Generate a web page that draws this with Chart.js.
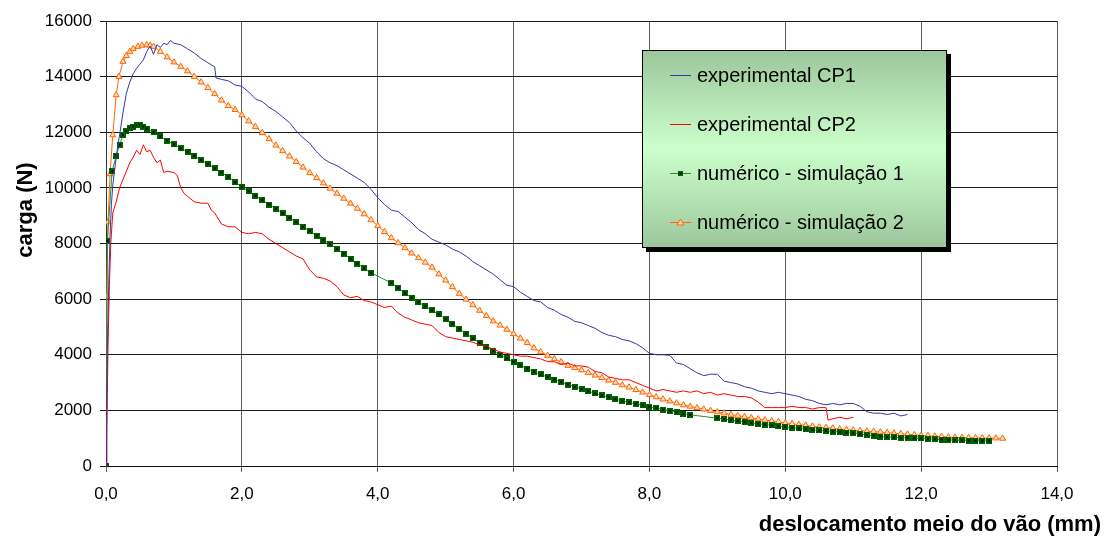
<!DOCTYPE html>
<html>
<head>
<meta charset="utf-8">
<script src="https://cdn.jsdelivr.net/npm/chart.js@4.4.1/dist/chart.umd.min.js"></script>
<style>
  html, body { margin: 0; padding: 0; background: #fff; }
  #grafica { display: block; }
</style>
</head>
<body>
<canvas id="grafica" width="1109" height="538"></canvas>
<script>
// --- Dados: [deslocamento (mm), carga (N)] ---
const nomesSeries = ['experimental CP1', 'experimental CP2', 'numérico - simulação 1', 'numérico - simulação 2'];

const cp1 = [
  [0,0],[0.01,1500],[0.02,4200],[0.04,6500],[0.06,8300],[0.08,9400],[0.1,10100],[0.13,10700],[0.16,11300],
  [0.2,11900],[0.25,12700],[0.3,13400],[0.35,13800],[0.4,14100],[0.45,14300],[0.5,14450],[0.55,14600],
  [0.6,14900],[0.65,15100],[0.7,14800],[0.75,15150],[0.8,15050],[0.85,15200],[0.9,15150],[0.95,15300],
  [1.0,15200],[1.1,15150],[1.2,15000],[1.3,14850],[1.4,14650],[1.5,14500],[1.6,14350],[1.62,13950],
  [1.7,13900],[1.8,13850],[1.9,13700],[2.0,13650],[2.1,13450],[2.2,13200],[2.3,13100],[2.4,12900],
  [2.5,12750],[2.6,12550],[2.7,12350],[2.8,12050],[2.9,11800],[3.0,11600],[3.1,11300],[3.2,11050],
  [3.3,10900],[3.4,10800],[3.5,10650],[3.6,10500],[3.7,10350],[3.8,10200],[3.9,9950],[4.0,9650],
  [4.1,9400],[4.2,9200],[4.3,9150],[4.4,8950],[4.5,8750],[4.6,8500],[4.7,8350],[4.8,8150],[4.9,8050],
  [5.0,7950],[5.1,7800],[5.2,7700],[5.3,7550],[5.4,7350],[5.5,7200],[5.6,7050],[5.7,6900],[5.8,6700],
  [5.9,6500],[6.0,6450],[6.1,6250],[6.2,6100],[6.3,5950],[6.4,5900],[6.5,5700],[6.6,5600],[6.7,5450],
  [6.8,5350],[6.9,5200],[7.0,5150],[7.1,5050],[7.2,4950],[7.3,4800],[7.4,4700],[7.5,4650],[7.6,4550],
  [7.7,4500],[7.8,4400],[7.9,4250],[8.0,4050],[8.1,4000],[8.2,4000],[8.3,3980],[8.4,3700],[8.5,3650],
  [8.6,3500],[8.7,3350],[8.8,3250],[8.9,3300],[9.0,3300],[9.1,3050],[9.2,3000],[9.3,2950],[9.4,2850],
  [9.5,2800],[9.6,2700],[9.7,2650],[9.8,2600],[9.9,2650],[10.0,2600],[10.1,2550],[10.2,2500],[10.3,2400],
  [10.4,2350],[10.5,2250],[10.6,2200],[10.7,2250],[10.8,2200],[10.9,2250],[11.0,2250],[11.1,2150],
  [11.2,1950],[11.3,1900],[11.4,1900],[11.5,1850],[11.6,1900],[11.7,1800],[11.8,1850]
];

const cp2 = [
  [0,0],[0.01,1000],[0.03,4300],[0.05,6500],[0.07,8000],[0.1,9100],[0.15,9500],[0.2,10000],[0.25,10300],
  [0.3,10600],[0.35,10900],[0.4,11100],[0.45,11350],[0.5,11200],[0.55,11550],[0.6,11300],[0.65,11350],
  [0.7,11100],[0.75,10900],[0.8,11000],[0.85,10550],[0.9,10600],[1.0,10550],[1.05,10450],[1.1,10000],
  [1.15,9800],[1.2,9700],[1.3,9500],[1.4,9450],[1.5,9450],[1.55,9200],[1.6,9100],[1.7,8700],[1.8,8600],
  [1.9,8600],[2.0,8400],[2.1,8350],[2.2,8400],[2.3,8350],[2.4,8150],[2.5,8000],[2.6,7850],[2.7,7700],
  [2.8,7550],[2.9,7450],[3.0,7050],[3.1,6800],[3.2,6750],[3.3,6650],[3.4,6450],[3.5,6150],[3.6,6050],
  [3.7,6100],[3.8,5950],[3.9,5900],[4.0,5800],[4.1,5700],[4.2,5750],[4.3,5500],[4.4,5350],[4.5,5250],
  [4.6,5150],[4.7,5100],[4.8,5050],[4.9,4800],[5.0,4650],[5.1,4600],[5.2,4550],[5.3,4500],[5.4,4450],
  [5.5,4350],[5.6,4300],[5.7,4200],[5.8,4100],[5.9,4050],[6.0,4000],[6.1,3950],[6.2,3950],[6.3,3900],
  [6.4,3850],[6.5,3750],[6.6,3750],[6.7,3650],[6.8,3700],[6.9,3600],[7.0,3600],[7.1,3550],[7.2,3400],
  [7.3,3350],[7.4,3200],[7.5,3150],[7.6,3100],[7.7,3100],[7.8,3000],[7.9,2900],[8.0,2800],[8.1,2700],
  [8.2,2750],[8.3,2700],[8.4,2650],[8.5,2700],[8.6,2650],[8.7,2700],[8.8,2600],[8.9,2650],[9.0,2550],
  [9.1,2600],[9.2,2550],[9.3,2500],[9.4,2500],[9.5,2450],[9.6,2300],[9.7,2100],[9.8,2100],[9.9,2100],
  [10.0,2100],[10.1,2150],[10.2,2100],[10.3,2100],[10.4,2050],[10.5,2100],[10.6,2100],[10.63,1650],
  [10.7,1700],[10.8,1750],[10.9,1700],[11.0,1750]
];

const sim1 = [
  [0,0],[0.02,8100],[0.09,10600],[0.15,11150],[0.2,11550],[0.25,11900],[0.3,12050],[0.35,12150],
  [0.4,12200],[0.45,12250],[0.5,12260],[0.55,12200],[0.6,12130],[0.7,12000],[0.8,11850],[0.9,11700],
  [1.0,11560],[1.1,11420],[1.2,11300],[1.3,11150],[1.4,11000],[1.5,10860],[1.6,10700],[1.7,10550],
  [1.8,10400],[1.9,10200],[2.0,10040],[2.1,9880],[2.2,9720],[2.3,9560],[2.4,9400],[2.5,9250],[2.6,9090],
  [2.7,8930],[2.8,8770],[2.9,8600],[3.0,8450],[3.1,8280],[3.2,8120],[3.3,7980],[3.4,7800],[3.5,7630],
  [3.6,7450],[3.7,7280],[3.8,7110],[3.9,6950],[4.2,6580],[4.3,6400],[4.4,6220],[4.5,6050],[4.6,5890],
  [4.7,5740],[4.8,5600],[4.9,5450],[5.0,5280],[5.1,5110],[5.2,4930],[5.3,4760],[5.4,4590],[5.5,4430],
  [5.6,4280],[5.7,4140],[5.8,4000],[5.9,3870],[6.0,3740],[6.1,3620],[6.2,3500],[6.3,3390],[6.4,3290],
  [6.5,3200],[6.6,3110],[6.7,3020],[6.8,2930],[6.9,2850],[7.0,2770],[7.1,2690],[7.2,2610],[7.3,2540],
  [7.4,2470],[7.5,2400],[7.6,2340],[7.7,2290],[7.8,2240],[7.9,2180],[8.0,2130],[8.1,2080],[8.2,2030],
  [8.3,1980],[8.4,1930],[8.5,1880],[8.6,1840],[9.0,1720],[9.1,1690],[9.2,1650],[9.3,1620],[9.4,1580],
  [9.5,1550],[9.6,1520],[9.7,1490],[9.8,1460],[9.9,1430],[10.0,1400],[10.1,1380],[10.2,1350],[10.3,1330],
  [10.4,1300],[10.5,1280],[10.6,1260],[10.7,1240],[10.8,1220],[10.9,1200],[11.0,1180],[11.1,1150],
  [11.2,1120],[11.3,1090],[11.4,1060],[11.5,1040],[11.6,1030],[11.7,1020],[11.8,1010],[11.9,1000],
  [12.0,990],[12.1,980],[12.2,960],[12.3,950],[12.4,935],[12.5,930],[12.6,920],[12.7,915],[12.8,910],
  [12.9,905],[13.0,900]
];

const sim2 = [
  [0,0],[0.01,6100],[0.03,8770],[0.06,10500],[0.1,11900],[0.15,13340],[0.19,14000],[0.25,14540],
  [0.3,14750],[0.35,14900],[0.4,15000],[0.47,15080],[0.53,15120],[0.6,15140],[0.65,15120],[0.7,15080],
  [0.8,14900],[0.9,14700],[1.0,14520],[1.1,14360],[1.2,14200],[1.3,14000],[1.4,13800],[1.5,13600],
  [1.6,13380],[1.7,13150],[1.8,12950],[1.9,12810],[2.0,12620],[2.1,12400],[2.2,12200],[2.3,11980],
  [2.4,11760],[2.5,11530],[2.6,11330],[2.7,11140],[2.8,10940],[2.9,10740],[3.0,10540],[3.1,10360],
  [3.2,10170],[3.3,9980],[3.4,9800],[3.5,9620],[3.6,9440],[3.7,9260],[3.8,9060],[3.9,8850],[4.0,8640],
  [4.1,8420],[4.2,8200],[4.3,8020],[4.4,7840],[4.5,7650],[4.6,7480],[4.7,7320],[4.8,7140],[4.9,6900],
  [5.0,6680],[5.1,6440],[5.2,6200],[5.3,5990],[5.4,5790],[5.5,5590],[5.6,5400],[5.7,5210],[5.8,5060],
  [5.9,4910],[6.0,4750],[6.1,4590],[6.2,4430],[6.3,4240],[6.4,4100],[6.5,3970],[6.6,3850],[6.7,3740],
  [6.8,3610],[6.9,3530],[7.0,3450],[7.1,3350],[7.2,3260],[7.3,3170],[7.4,3080],[7.5,3000],[7.6,2910],
  [7.7,2830],[7.8,2740],[7.9,2650],[8.0,2560],[8.1,2480],[8.2,2400],[8.3,2330],[8.4,2260],[8.5,2190],
  [8.6,2140],[8.7,2090],[8.8,2040],[8.9,1990],[9.0,1940],[9.1,1900],[9.2,1850],[9.3,1810],[9.4,1770],
  [9.5,1730],[9.6,1690],[9.7,1650],[9.8,1620],[9.9,1590],[10.0,1550],[10.1,1520],[10.2,1490],[10.3,1460],
  [10.4,1430],[10.5,1400],[10.6,1380],[10.7,1360],[10.8,1330],[10.9,1310],[11.0,1290],[11.1,1270],
  [11.2,1250],[11.3,1240],[11.4,1220],[11.5,1200],[11.6,1180],[11.7,1160],[11.8,1140],[11.9,1120],
  [12.0,1100],[12.1,1090],[12.2,1070],[12.3,1060],[12.4,1040],[12.5,1030],[12.6,1020],[12.7,1020],
  [12.8,1010],[12.9,1010],[13.0,1000],[13.1,1000],[13.2,990]
];

// eixos
const xMin = 0, xMax = 14, xPasso = 2;
const yMin = 0, yMax = 16000, yPasso = 2000;
const tituloX = 'deslocamento meio do vão (mm)';
const tituloY = 'carga (N)';

const fonte = "'Liberation Sans', Arial, sans-serif";
Chart.defaults.font.family = fonte;
Chart.defaults.color = '#000';

const pontos = arr => arr.map(p => ({ x: p[0], y: p[1] }));

// marcador quadrado verde com "x" preto
function marcadorQuadrado() {
  const c = document.createElement('canvas');
  c.width = 6; c.height = 6;
  const g = c.getContext('2d');
  g.fillStyle = '#006600';
  g.fillRect(0, 0, 6, 6);
  g.strokeStyle = '#000';
  g.lineWidth = 1;
  g.beginPath();
  g.moveTo(1.5, 1.5); g.lineTo(4.5, 4.5);
  g.moveTo(4.5, 1.5); g.lineTo(1.5, 4.5);
  g.stroke();
  return c;
}
const quadrado = marcadorQuadrado();

// legenda com fundo degradê e sombra
const legendaCaixa = {
  id: 'legendaCaixa',
  afterDraw(chart) {
    const ctx = chart.ctx;
    const x = 642, y = 50, w = 305, h = 198;
    ctx.save();
    ctx.fillStyle = '#000';
    ctx.fillRect(x + 4, y + 4, w, h);
    const grad = ctx.createLinearGradient(0, y, 0, y + h);
    grad.addColorStop(0, '#9cc69c');
    grad.addColorStop(0.5, '#ccffcc');
    grad.addColorStop(1, '#9cc69c');
    ctx.fillStyle = grad;
    ctx.fillRect(x, y, w, h);
    ctx.strokeStyle = '#000';
    ctx.lineWidth = 1;
    ctx.strokeRect(x + 0.5, y + 0.5, w - 1, h - 1);

    chart.data.datasets.forEach((ds, i) => {
      const cy = 75 + i * 49;
      ctx.strokeStyle = ds.borderColor;
      ctx.lineWidth = 1;
      ctx.beginPath();
      ctx.moveTo(670, cy + 0.5);
      ctx.lineTo(691, cy + 0.5);
      ctx.stroke();
      if (i === 2) ctx.drawImage(quadrado, 678, cy - 2, 5, 5);
      if (i === 3) {
        ctx.fillStyle = ds.pointBackgroundColor;
        ctx.strokeStyle = ds.pointBorderColor;
        ctx.beginPath();
        ctx.moveTo(680.5, cy - 3);
        ctx.lineTo(684, cy + 3);
        ctx.lineTo(677, cy + 3);
        ctx.closePath();
        ctx.fill();
        ctx.stroke();
      }
      ctx.fillStyle = '#000';
      ctx.font = '20px ' + fonte;
      ctx.textAlign = 'left';
      ctx.textBaseline = 'middle';
      ctx.fillText(ds.label, 697, cy + 1);
    });
    ctx.restore();
  }
};

// títulos dos eixos
const titulosEixos = {
  id: 'titulosEixos',
  afterDraw(chart) {
    const ctx = chart.ctx;
    ctx.save();
    ctx.fillStyle = '#000';
    ctx.font = 'bold 22px ' + fonte;
    ctx.textBaseline = 'middle';
    ctx.textAlign = 'right';
    ctx.fillText(tituloX, 1101, 525);
    ctx.translate(26, 210);
    ctx.rotate(-Math.PI / 2);
    ctx.textAlign = 'center';
    ctx.fillText(tituloY, 0, 0);
    ctx.restore();
  }
};

new Chart(document.getElementById('grafica'), {
  type: 'line',
  data: {
    datasets: [
      {
        label: nomesSeries[0],
        data: pontos(cp1),
        borderColor: '#3636a6',
        borderWidth: 1,
        pointRadius: 0
      },
      {
        label: nomesSeries[1],
        data: pontos(cp2),
        borderColor: '#ff0000',
        borderWidth: 1,
        pointRadius: 0
      },
      {
        label: nomesSeries[2],
        data: pontos(sim1),
        borderColor: '#2e8b2e',
        borderWidth: 1,
        pointStyle: quadrado,
        pointRadius: 3
      },
      {
        label: nomesSeries[3],
        data: pontos(sim2),
        borderColor: '#ff6600',
        borderWidth: 1,
        pointStyle: 'triangle',
        pointRadius: 3.5,
        pointBorderWidth: 1,
        pointBorderColor: '#ff6600',
        pointBackgroundColor: '#ffd9b3'
      }
    ]
  },
  options: {
    responsive: false,
    animation: false,
    events: [],
    layout: { padding: { left: 0, right: 52, top: 21, bottom: 0 } },
    elements: { line: { tension: 0 } },
    plugins: { legend: { display: false }, tooltip: { enabled: false } },
    scales: {
      x: {
        type: 'linear',
        min: xMin, max: xMax,
        afterFit: s => { s.height = 72; },
        ticks: {
          stepSize: xPasso,
          padding: 12,
          font: { size: 17 },
          maxRotation: 0,
          callback: v => v.toFixed(1).replace('.', ',')
        },
        grid: { color: '#5c5c5c', lineWidth: 1, tickLength: 6 },
        border: { color: '#111', width: 1 }
      },
      y: {
        type: 'linear',
        min: yMin, max: yMax,
        afterFit: s => { s.width = 106; },
        ticks: {
          stepSize: yPasso,
          padding: 8,
          font: { size: 17 },
          callback: v => String(v)
        },
        grid: { color: '#1a1a1a', lineWidth: 1, tickLength: 6 },
        border: { color: '#333', width: 1 }
      }
    }
  },
  plugins: [legendaCaixa, titulosEixos]
});
</script>
</body>
</html>
